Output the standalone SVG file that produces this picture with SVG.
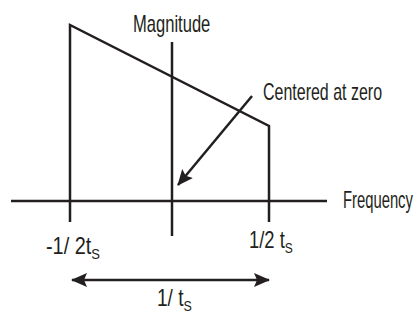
<svg xmlns="http://www.w3.org/2000/svg" width="419" height="320" viewBox="0 0 419 320">
<style>
.ln{stroke:#231f20;stroke-width:2.5;fill:none}
.t{font-family:"Liberation Sans",Arial,sans-serif;font-size:23px;fill:#231f20}
.s{font-size:15px}
</style>
<defs>
<marker id="ah" viewBox="0 0 16 14" refX="15" refY="7" markerWidth="16" markerHeight="14" markerUnits="userSpaceOnUse" orient="auto-start-reverse">
<path d="M0,0 L16,7 L0,14 L3,7 Z" fill="#231f20"/>
</marker>
</defs>
<rect width="419" height="320" fill="#fff"/>
<g id="connectors">
<line class="ln" x1="11" y1="201" x2="327" y2="201"/>
<line class="ln" x1="172" y1="42" x2="172" y2="236"/>
<polyline class="ln" points="70,222 70,25 269,126 269,222"/>
<line class="ln" x1="252" y1="96" x2="178" y2="185" marker-end="url(#ah)"/>
<line class="ln" x1="72" y1="280" x2="269" y2="280" marker-start="url(#ah)" marker-end="url(#ah)"/>
</g>
<g id="magnitude" transform="translate(133,32) scale(0.72,1)"><text class="t" x="0" y="0">Magnitude</text></g>
<g id="centered" transform="translate(263,100) scale(0.695,1)"><text class="t" x="0" y="0">Centered at zero</text></g>
<g id="frequency" transform="translate(343,208) scale(0.644,1)"><text class="t" x="0" y="0">Frequency</text></g>
<g id="neg-half" transform="translate(46,254) scale(0.865,1)"><text class="t" x="0" y="0">-1/ 2t<tspan class="s" dy="5">S</tspan></text></g>
<g id="pos-half" transform="translate(249,248) scale(0.8,1)"><text class="t" x="0" y="0">1/2 t<tspan class="s" dy="5">S</tspan></text></g>
<g id="period" transform="translate(157,306) scale(0.83,1)"><text class="t" x="0" y="0">1/ t<tspan class="s" dy="5">S</tspan></text></g>
</svg>
